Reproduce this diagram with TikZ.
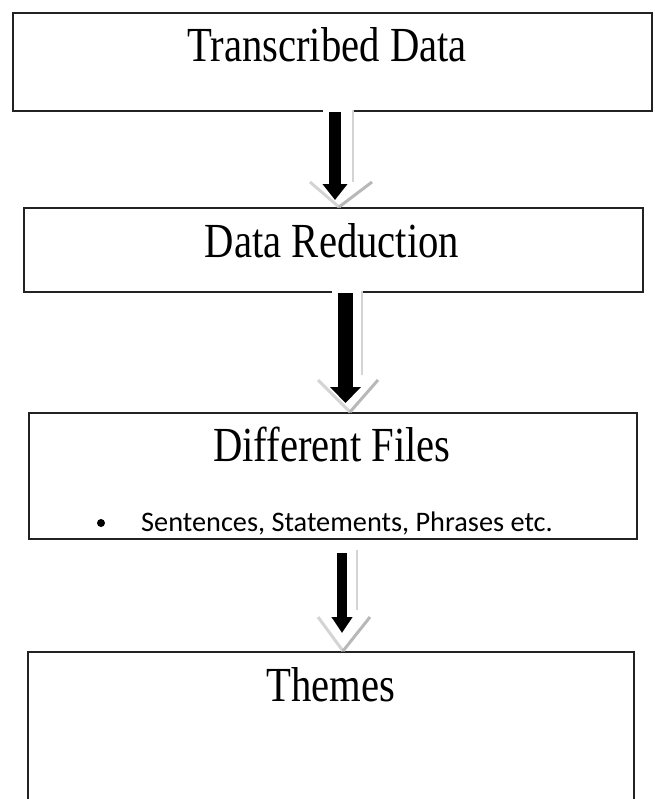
\documentclass[tikz,border=0pt]{standalone}
\usepackage{fontspec}
\setmainfont{Liberation Serif}
\newfontfamily\calib{Carlito}
\usetikzlibrary{arrows.meta}
\definecolor{edge}{HTML}{222222}
\definecolor{shadelight}{HTML}{D4D4D4}
\definecolor{shadedark}{HTML}{B8B8B8}
\tikzset{
  box/.style={draw=edge, line width=2bp, inner sep=0pt, anchor=north west},
  ghost/.style={inner sep=0pt, anchor=north west},
  title/.style={anchor=base, inner sep=0pt, font=\fontsize{49bp}{51bp}\selectfont},
  blackarrow/.style={draw=black, line width=#1, -{Triangle[width=2.0*#1, length=16bp]}},
  gline/.style={draw=shadelight, line width=2.2bp},
  armlight/.style={draw=shadelight, line width=3bp},
  armdark/.style={draw=shadedark, line width=3bp},
  gap/.style={draw=white, line width=3bp}
}
\begin{document}
\begin{tikzpicture}[x=1bp,y=-1bp]
\useasboundingbox (0,0) rectangle (655,799);
% boxes
\node[box, minimum width=639bp, minimum height=98bp] (b1) at (12,12) {};
\node[box, minimum width=619bp, minimum height=84bp] (b2) at (23,207) {};
\node[box, minimum width=608bp, minimum height=126bp] (b3) at (28,412) {};
\node[ghost, minimum width=606bp, minimum height=147bp] (b4) at (28,652) {};
\draw[edge, line width=2bp] (b4.south west) -- (b4.north west) -- (b4.north east) -- (b4.south east);
% texts
\node[title] (t1) at (327,62) {\scalebox{0.83}[1]{Transcribed Data}};
\node[title] (t2) at (332,257) {\scalebox{0.83}[1]{Data Reduction}};
\node[title] (t3) at (332,461) {\scalebox{0.83}[1]{Different Files}};
\node[title] (t4) at (331,701) {\scalebox{0.83}[1]{Themes}};
\node[circle, fill=black, inner sep=0pt, minimum size=8bp] (bul) at (101,523) {};
\node[anchor=base west, inner sep=0pt, font=\calib\fontsize{28.3bp}{30bp}\selectfont] (t5) at (141,531) {Sentences, Statements, Phrases etc.};
% arrow 1
\draw[gap] (323,110) -- (353,110);
\coordinate (a1s) at (b1.south -| 335,0);
\coordinate (a1e) at (b2.north -| 335,0);
\draw[gline] (353,110) -- (353,182);
\draw[armlight] (310,182) -- (339,207);
\draw[armdark] (372,182) -- (339,207);
\draw[blackarrow=12bp] (a1s) -- ([yshift=7bp]a1e);
% arrow 2
\draw[gap] (332,291) -- (362,291);
\coordinate (a2s) at (b2.south -| 345.5,0);
\coordinate (a2e) at (b3.north -| 345.5,0);
\draw[gline] (362,291) -- (362,375);
\draw[armlight] (318,380) -- (350,412);
\draw[armdark] (378,380) -- (350,412);
\draw[blackarrow=15bp] (a2s) -- ([yshift=9bp]a2e);
% arrow 3
\coordinate (a3s) at (342,553);
\coordinate (a3e) at (b4.north -| 342,0);
\draw[gline] (357,550) -- (357,610);
\draw[armlight] (318,617) -- (343,651);
\draw[armdark] (370,617) -- (343,651);
\draw[blackarrow=10bp] (a3s) -- ([yshift=19bp]a3e);
\end{tikzpicture}
\end{document}
